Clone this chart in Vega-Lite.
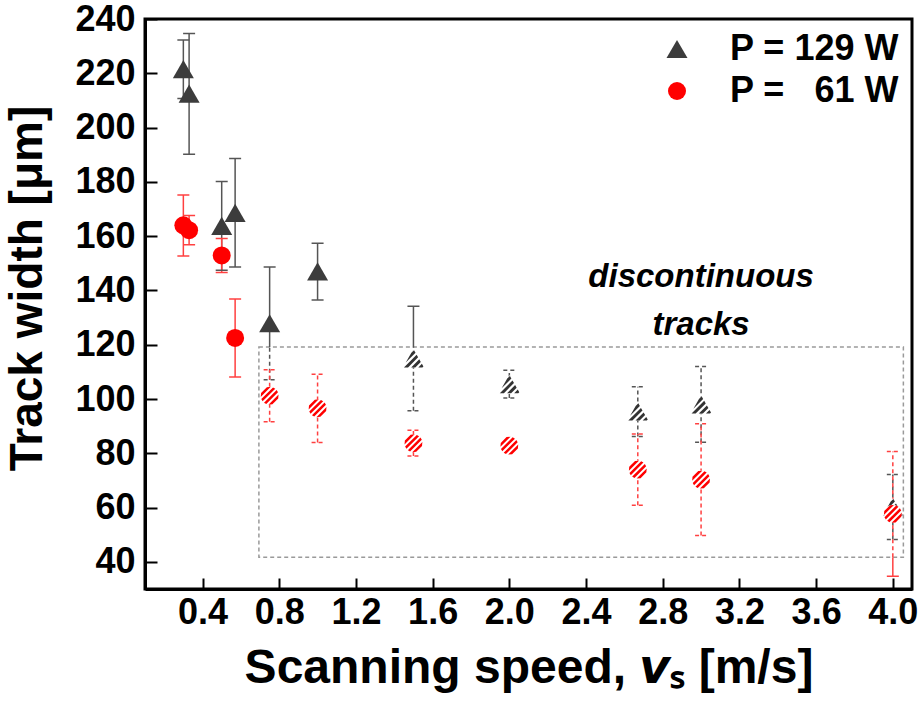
{
  "$schema": "https://vega.github.io/schema/vega-lite/v6.json",
  "width": 767,
  "height": 570,
  "autosize": "none",
  "padding": {"left": 145, "top": 19, "right": 9, "bottom": 118},
  "background": "white",
  "datasets": {
    "points": [
      {"power": "129 W", "speed": 0.3, "width": 221.5, "track": "continuous"},
      {"power": "129 W", "speed": 0.33, "width": 212.5, "track": "continuous"},
      {"power": "129 W", "speed": 0.5, "width": 163.8, "track": "continuous"},
      {"power": "129 W", "speed": 0.57, "width": 168.6, "track": "continuous"},
      {"power": "129 W", "speed": 0.75, "width": 127.9, "track": "continuous"},
      {"power": "129 W", "speed": 1.0, "width": 147.0, "track": "continuous"},
      {"power": "129 W", "speed": 1.5, "width": 115.0, "track": "discontinuous"},
      {"power": "129 W", "speed": 2.0, "width": 105.5, "track": "discontinuous"},
      {"power": "129 W", "speed": 2.67, "width": 95.4, "track": "discontinuous"},
      {"power": "129 W", "speed": 3.0, "width": 98.0, "track": "discontinuous"},
      {"power": "129 W", "speed": 4.0, "width": 60.2, "track": "discontinuous"},
      {"power": "61 W", "speed": 0.3, "width": 164.0, "track": "continuous"},
      {"power": "61 W", "speed": 0.33, "width": 162.2, "track": "continuous"},
      {"power": "61 W", "speed": 0.5, "width": 152.9, "track": "continuous"},
      {"power": "61 W", "speed": 0.57, "width": 122.5, "track": "continuous"},
      {"power": "61 W", "speed": 0.75, "width": 101.2, "track": "discontinuous"},
      {"power": "61 W", "speed": 1.0, "width": 96.6, "track": "discontinuous"},
      {"power": "61 W", "speed": 1.5, "width": 83.7, "track": "discontinuous"},
      {"power": "61 W", "speed": 2.0, "width": 82.8, "track": "discontinuous"},
      {"power": "61 W", "speed": 2.67, "width": 74.0, "track": "discontinuous"},
      {"power": "61 W", "speed": 3.0, "width": 70.3, "track": "discontinuous"},
      {"power": "61 W", "speed": 4.0, "width": 57.7, "track": "discontinuous"}
    ],
    "bars": [
      {"series": "129", "speed": 0.3, "lo": 210.7, "hi": 232.3, "zone": "out"},
      {"series": "129", "speed": 0.33, "lo": 190.2, "hi": 234.7, "zone": "out"},
      {"series": "129", "speed": 0.5, "lo": 147.4, "hi": 180.1, "zone": "out"},
      {"series": "129", "speed": 0.57, "lo": 148.6, "hi": 188.6, "zone": "out"},
      {"series": "129", "speed": 0.75, "lo": 119.2, "hi": 148.6, "zone": "out"},
      {"series": "129", "speed": 0.75, "lo": 107.1, "hi": 119.2, "zone": "in"},
      {"series": "129", "speed": 1.0, "lo": 136.5, "hi": 157.4, "zone": "out"},
      {"series": "129", "speed": 1.5, "lo": 119.2, "hi": 134.2, "zone": "out"},
      {"series": "129", "speed": 1.5, "lo": 95.7, "hi": 119.2, "zone": "in"},
      {"series": "129", "speed": 2.0, "lo": 100.4, "hi": 110.6, "zone": "in"},
      {"series": "129", "speed": 2.67, "lo": 86.2, "hi": 104.5, "zone": "in"},
      {"series": "129", "speed": 3.0, "lo": 84.1, "hi": 112.0, "zone": "in"},
      {"series": "129", "speed": 4.0, "lo": 48.2, "hi": 72.2, "zone": "in"},
      {"series": "61", "speed": 0.3, "lo": 152.7, "hi": 175.2, "zone": "out"},
      {"series": "61", "speed": 0.33, "lo": 156.8, "hi": 167.6, "zone": "out"},
      {"series": "61", "speed": 0.5, "lo": 146.6, "hi": 159.1, "zone": "out"},
      {"series": "61", "speed": 0.57, "lo": 108.1, "hi": 136.8, "zone": "out"},
      {"series": "61", "speed": 0.75, "lo": 91.6, "hi": 110.8, "zone": "in"},
      {"series": "61", "speed": 1.0, "lo": 84.0, "hi": 109.1, "zone": "in"},
      {"series": "61", "speed": 1.5, "lo": 79.0, "hi": 88.5, "zone": "in"},
      {"series": "61", "speed": 2.0, "lo": 81.5, "hi": 84.1, "zone": "in"},
      {"series": "61", "speed": 2.67, "lo": 60.9, "hi": 87.1, "zone": "in"},
      {"series": "61", "speed": 3.0, "lo": 49.7, "hi": 90.9, "zone": "in"},
      {"series": "61", "speed": 4.0, "lo": 41.7, "hi": 80.7, "zone": "in"},
      {"series": "61", "speed": 4.0, "lo": 34.7, "hi": 41.7, "zone": "out"}
    ],
    "caps": [
      {"series": "129", "speed": 0.3, "end": 210.7, "zone": "out"},
      {"series": "129", "speed": 0.3, "end": 232.3, "zone": "out"},
      {"series": "129", "speed": 0.33, "end": 190.2, "zone": "out"},
      {"series": "129", "speed": 0.33, "end": 234.7, "zone": "out"},
      {"series": "129", "speed": 0.5, "end": 147.4, "zone": "out"},
      {"series": "129", "speed": 0.5, "end": 180.1, "zone": "out"},
      {"series": "129", "speed": 0.57, "end": 148.6, "zone": "out"},
      {"series": "129", "speed": 0.57, "end": 188.6, "zone": "out"},
      {"series": "129", "speed": 0.75, "end": 148.6, "zone": "out"},
      {"series": "129", "speed": 0.75, "end": 107.1, "zone": "in"},
      {"series": "129", "speed": 1.0, "end": 136.5, "zone": "out"},
      {"series": "129", "speed": 1.0, "end": 157.4, "zone": "out"},
      {"series": "129", "speed": 1.5, "end": 134.2, "zone": "out"},
      {"series": "129", "speed": 1.5, "end": 95.7, "zone": "in"},
      {"series": "129", "speed": 2.0, "end": 100.4, "zone": "in"},
      {"series": "129", "speed": 2.0, "end": 110.6, "zone": "in"},
      {"series": "129", "speed": 2.67, "end": 86.2, "zone": "in"},
      {"series": "129", "speed": 2.67, "end": 104.5, "zone": "in"},
      {"series": "129", "speed": 3.0, "end": 84.1, "zone": "in"},
      {"series": "129", "speed": 3.0, "end": 112.0, "zone": "in"},
      {"series": "129", "speed": 4.0, "end": 48.2, "zone": "in"},
      {"series": "129", "speed": 4.0, "end": 72.2, "zone": "in"},
      {"series": "61", "speed": 0.3, "end": 152.7, "zone": "out"},
      {"series": "61", "speed": 0.3, "end": 175.2, "zone": "out"},
      {"series": "61", "speed": 0.33, "end": 156.8, "zone": "out"},
      {"series": "61", "speed": 0.33, "end": 167.6, "zone": "out"},
      {"series": "61", "speed": 0.5, "end": 146.6, "zone": "out"},
      {"series": "61", "speed": 0.5, "end": 159.1, "zone": "out"},
      {"series": "61", "speed": 0.57, "end": 108.1, "zone": "out"},
      {"series": "61", "speed": 0.57, "end": 136.8, "zone": "out"},
      {"series": "61", "speed": 0.75, "end": 91.6, "zone": "in"},
      {"series": "61", "speed": 0.75, "end": 110.8, "zone": "in"},
      {"series": "61", "speed": 1.0, "end": 84.0, "zone": "in"},
      {"series": "61", "speed": 1.0, "end": 109.1, "zone": "in"},
      {"series": "61", "speed": 1.5, "end": 79.0, "zone": "in"},
      {"series": "61", "speed": 1.5, "end": 88.5, "zone": "in"},
      {"series": "61", "speed": 2.0, "end": 81.5, "zone": "in"},
      {"series": "61", "speed": 2.0, "end": 84.1, "zone": "in"},
      {"series": "61", "speed": 2.67, "end": 60.9, "zone": "in"},
      {"series": "61", "speed": 2.67, "end": 87.1, "zone": "in"},
      {"series": "61", "speed": 3.0, "end": 49.7, "zone": "in"},
      {"series": "61", "speed": 3.0, "end": 90.9, "zone": "in"},
      {"series": "61", "speed": 4.0, "end": 80.7, "zone": "in"},
      {"series": "61", "speed": 4.0, "end": 34.7, "zone": "out"}
    ]
  },
  "layer": [
    {
      "data": {"values": [{"x1": 0.694, "x2": 4.055, "y1": 41.7, "y2": 119.2}]},
      "mark": {"type": "rect", "fill": null, "stroke": "#9a9a9a", "strokeWidth": 1.5, "strokeDash": [4, 3]},
      "encoding": {
        "x": {
          "field": "x1", "type": "quantitative",
          "scale": {"domain": [0.1, 4.1], "nice": false, "zero": false},
          "axis": {
            "title": "Scanning speed, 𝙫ₛ [m/s]",
            "values": [0.4, 0.8, 1.2, 1.6, 2.0, 2.4, 2.8, 3.2, 3.6, 4.0],
            "labelExpr": "format(datum.value, '.1f')",
            "tickSize": -11,
            "titleX": 383.5, "titleY": 93, "titleBaseline": "alphabetic"
          }
        },
        "x2": {"field": "x2"},
        "y": {
          "field": "y1", "type": "quantitative",
          "scale": {"domain": [30, 240], "nice": false, "zero": false},
          "axis": {
            "title": "Track width [μm]",
            "values": [40, 50, 60, 70, 80, 90, 100, 110, 120, 130, 140, 150, 160, 170, 180, 190, 200, 210, 220, 230, 240],
            "labelExpr": "datum.value % 20 === 0 ? datum.label : ''",
            "tickSize": {"condition": {"test": "datum.value % 20 === 0", "value": -12}, "value": -6},
            "titleX": -104, "titleY": 269, "titleBaseline": "alphabetic", "titleFontSize": 46
          }
        },
        "y2": {"field": "y2"}
      }
    },
    {
      "data": {"values": [{"note": ["discontinuous", "tracks"], "sx": 3.0, "wy": 145.0}]},
      "mark": {"type": "text", "font": "Liberation Sans", "fontSize": 33, "fontWeight": "bold", "fontStyle": "italic", "lineHeight": 48, "baseline": "middle", "align": "center", "color": "black"},
      "encoding": {
        "x": {"field": "sx", "type": "quantitative"},
        "y": {"field": "wy", "type": "quantitative"},
        "text": {"field": "note"}
      }
    },
    {
      "data": {"name": "bars"},
      "mark": {"type": "rule", "strokeWidth": 1.5},
      "encoding": {
        "x": {"field": "speed", "type": "quantitative"},
        "y": {"field": "lo", "type": "quantitative"},
        "y2": {"field": "hi"},
        "stroke": {"field": "series", "type": "nominal", "scale": {"domain": ["129", "61"], "range": ["#555555", "#ff4040"]}, "legend": null},
        "strokeDash": {"field": "zone", "type": "nominal", "scale": {"domain": ["out", "in"], "range": [[1, 0], [4, 3]]}, "legend": null}
      }
    },
    {
      "data": {"name": "caps"},
      "mark": {"type": "rule", "strokeWidth": 1.5, "xOffset": -6, "x2Offset": 6},
      "encoding": {
        "x": {"field": "speed", "type": "quantitative"},
        "x2": {"field": "speed"},
        "y": {"field": "end", "type": "quantitative"},
        "stroke": {"field": "series", "type": "nominal", "legend": null},
        "strokeDash": {"field": "zone", "type": "nominal", "legend": null}
      }
    },
    {
      "data": {"name": "points"},
      "transform": [{"filter": "datum.track == 'continuous'"}],
      "mark": {"type": "point", "filled": true, "opacity": 1, "strokeWidth": 0},
      "encoding": {
        "x": {"field": "speed", "type": "quantitative"},
        "y": {"field": "width", "type": "quantitative"},
        "color": {
          "field": "power", "type": "nominal",
          "scale": {"domain": ["129 W", "61 W"], "range": ["#3c3c3c", "#ff0000"]},
          "legend": {
            "title": null,
            "orient": "top-right", "offset": 12,
            "labelExpr": "datum.label == '129 W' ? 'P = 129 W' : 'P =\u00a0\u00a0 61 W'",
            "labelFont": "Liberation Sans", "labelFontSize": 36, "labelFontWeight": "bold",
            "labelColor": "black", "labelOffset": 35, "labelLimit": 400, "rowPadding": 6, "padding": 0,
            "symbolStrokeWidth": 0, "symbolOpacity": 1
          }
        },
        "shape": {"field": "power", "type": "nominal", "scale": {"domain": ["129 W", "61 W"], "range": ["triangle-up", "circle"]}},
        "size": {"field": "power", "type": "nominal", "scale": {"domain": ["129 W", "61 W"], "range": [441, 324]}}
      }
    },
    {
      "data": {"name": "points"},
      "transform": [{"filter": "datum.track == 'discontinuous' && datum.power == '129 W'"}],
      "mark": {"type": "point", "shape": "triangle-up", "filled": true, "color": "white", "opacity": 1, "size": 441, "strokeWidth": 0},
      "encoding": {
        "x": {"field": "speed", "type": "quantitative"},
        "y": {"field": "width", "type": "quantitative"}
      }
    },
    {
      "data": {"name": "points"},
      "transform": [{"filter": "datum.track == 'discontinuous' && datum.power == '129 W'"}],
      "mark": {
        "type": "point", "filled": true, "color": "#333333", "opacity": 1, "size": 441, "strokeWidth": 0,
        "shape": "M-0.199,-0.521L0.053,-0.773L0.196,-0.526L-0.732,0.402Z M-0.906,0.866L0.302,-0.343L0.445,-0.095L-0.516,0.866Z M-0.216,0.866L0.555,0.095L0.698,0.342L0.174,0.866Z M0.464,0.866L0.804,0.527L0.947,0.774L0.854,0.866Z"
      },
      "encoding": {
        "x": {"field": "speed", "type": "quantitative"},
        "y": {"field": "width", "type": "quantitative"}
      }
    },
    {
      "data": {"name": "points"},
      "transform": [{"filter": "datum.track == 'discontinuous' && datum.power == '61 W'"}],
      "mark": {"type": "point", "shape": "circle", "filled": true, "color": "white", "opacity": 1, "size": 324, "strokeWidth": 0},
      "encoding": {
        "x": {"field": "speed", "type": "quantitative"},
        "y": {"field": "width", "type": "quantitative"}
      }
    },
    {
      "data": {"name": "points"},
      "transform": [{"filter": "datum.track == 'discontinuous' && datum.power == '61 W'"}],
      "mark": {
        "type": "point", "filled": true, "color": "#ff0000", "opacity": 1, "size": 324, "strokeWidth": 0,
        "shape": "M-0.952,-0.307L-0.307,-0.952L0.129,-0.991L-0.991,0.129Z M-0.927,0.375L0.375,-0.927L0.625,-0.781L-0.781,0.625Z M-0.625,0.781L0.781,-0.625L0.927,-0.375L-0.375,0.927Z M0.952,0.307L0.307,0.952L-0.129,0.991L0.991,-0.129Z"
      },
      "encoding": {
        "x": {"field": "speed", "type": "quantitative"},
        "y": {"field": "width", "type": "quantitative"}
      }
    }
  ],
  "config": {
    "view": {"stroke": "black", "strokeWidth": 3},
    "font": "Liberation Sans",
    "axis": {
      "grid": false,
      "domainColor": "black",
      "domainWidth": 3,
      "tickColor": "black",
      "tickWidth": 2,
      "labelFont": "Liberation Sans",
      "labelFontWeight": "bold",
      "labelFontSize": 36,
      "labelColor": "black",
      "titleFont": "Liberation Sans",
      "titleFontWeight": "bold",
      "titleFontSize": 48,
      "titleColor": "black"
    },
    "axisX": {"labelPadding": 17},
    "axisY": {"labelPadding": 22}
  }
}
